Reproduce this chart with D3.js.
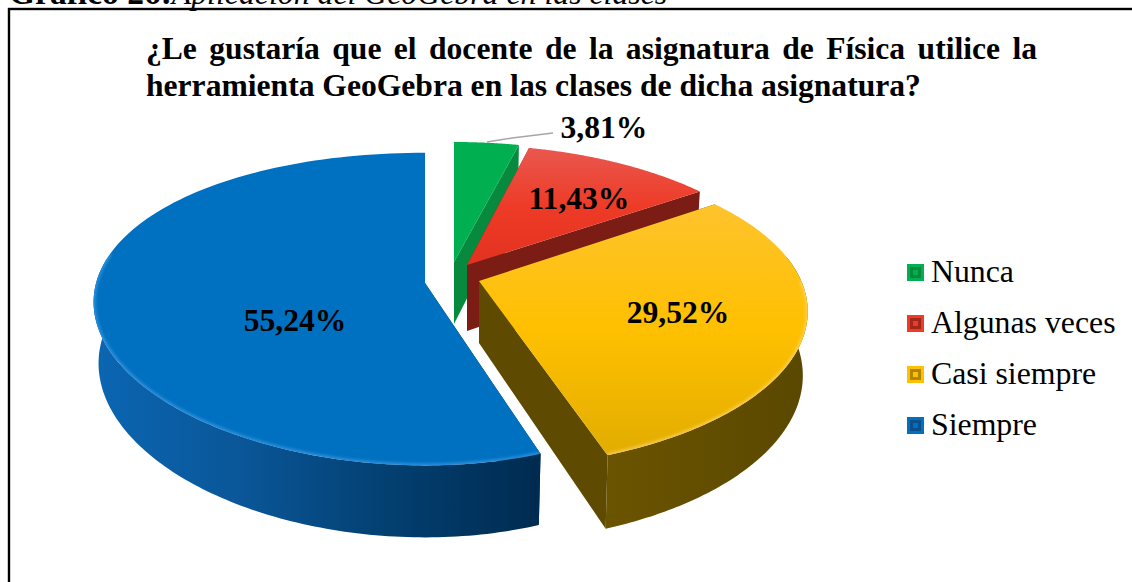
<!DOCTYPE html>
<html><head><meta charset="utf-8">
<style>html,body{margin:0;background:#fff;overflow:hidden}svg{display:block}text{font-family:"Liberation Serif",serif;fill:#000}</style>
<script src="https://cdn.jsdelivr.net/npm/d3@7"></script></head><body>
<svg id="c" width="1132" height="582"></svg>
<script>
const categories=["Nunca","Algunas veces","Casi siempre","Siempre"];
const values=[3.81,11.43,29.52,55.24];
const valueLabels=["3,81%","11,43%","29,52%","55,24%"];
const titleLines=["¿Le gustaría que el docente de la asignatura de Física utilice la","herramienta GeoGebra en las clases de dicha asignatura?"];
const topColors=[["#00b050","#00b050","#00b050"],["#e9584f","#ee3b27","#e2321f"],["#fec32d","#ffc000","#e2ad00"],["#0070c0","#0070c0","#0070c0"]];
const cutColors=["#078a3e","#7b1d14","#5e4a00","#003258"];
const wallStops=[["#078a3e","#078a3e"],["#7b1d14","#7b1d14"],["#6b5400","#5a4800"],["#0b66b2","#0a5698","#033f70","#002b50"]];
const bevelColors=[null,null,"#ffdc7a","#4aa6ec"];
const apexX=[454,467,479,425], apexY=[262,265,281,283];
const radXStart=[318,304,316,301], radXEnd=[318,312,335,352];
const radYStart=[140,140,146,152], radYEnd=[140,140,155,152];
const depth=[62,66,62,60];
const persp=1/6, taper=0.985;

const svg=d3.select("#c");
const defs=svg.append("defs");
const arcs=d3.pie().sort(null).value(d=>d)(values);
defs.append("filter").attr("id","soft").attr("x","-10%").attr("y","-10%").attr("width","120%").attr("height","120%")
  .append("feGaussianBlur").attr("stdDeviation",1.6);

function pt(i,a,down){
  const d=arcs[i],t=(a-d.startAngle)/(d.endAngle-d.startAngle);
  const rx=radXStart[i]+(radXEnd[i]-radXStart[i])*t, ry=radYStart[i]+(radYEnd[i]-radYStart[i])*t;
  const X=Math.sin(a),Y=-Math.cos(a),s=1/(1-persp*Y);
  return [apexX[i]+rx*X*s*(down?taper:1), apexY[i]+ry*Y*s+(down?depth[i]*s:0)];
}
const apex=(i,down)=>[apexX[i],apexY[i]+(down?depth[i]:0)];
const line=d3.line();
const rim=(i,a0,a1,down)=>d3.range(0,121).map(k=>pt(i,a0+(a1-a0)*k/120,down));

values.forEach((_,i)=>{
  const g=defs.append("linearGradient").attr("id","top"+i).attr("x1",0).attr("y1",0).attr("x2",0).attr("y2",1);
  topColors[i].forEach((c,k)=>g.append("stop").attr("offset",k/2).attr("stop-color",c));
  const w=defs.append("linearGradient").attr("id","wall"+i).attr("x1",0).attr("y1",0).attr("x2",1).attr("y2",0);
  wallStops[i].forEach((c,k,all)=>w.append("stop").attr("offset",k/(all.length-1)).attr("stop-color",c));
});

// frame (runs past the right and bottom of the picture)
svg.append("rect").attr("x",9).attr("y",9).attr("width",1200).attr("height",640).attr("fill","none").attr("stroke","#000").attr("stroke-width",2.4);
const head=svg.append("text").attr("x",9).attr("y",4);
head.append("tspan").attr("font-weight","bold").attr("font-size",33.5).text("Gráfico 26:");
head.append("tspan").attr("font-style","italic").attr("font-size",31.8).text("Aplicación del GeoGebra en las clases");

// title
const t0=svg.append("text").attr("x",146).attr("y",59).attr("font-size",31.6).attr("font-weight","bold").text(titleLines[0]);
svg.append("text").attr("x",146).attr("y",96).attr("font-size",31.6).attr("font-weight","bold").text(titleLines[1]);
const gaps=titleLines[0].split(" ").length-1;
t0.attr("word-spacing",(891-t0.node().getComputedTextLength())/gaps);

// slices back to front
arcs.forEach((d,i)=>{
  const g=svg.append("g");
  const a0=d.startAngle,a1=d.endAngle;
  const cut=a=>[apex(i,false),pt(i,a,false),pt(i,a,true),apex(i,true)];
  g.append("path").attr("d",line(cut(a1))+"Z").attr("fill",cutColors[i]);
  g.append("path").attr("d",line(cut(a0))+"Z").attr("fill",cutColors[i]);
  const fa0=Math.max(a0,Math.PI/2-0.17), fa1=Math.min(a1,3*Math.PI/2+0.17);
  if(fa1>fa0){
    const up=rim(i,fa0,fa1,false), dn=rim(i,fa0,fa1,true).reverse();
    g.append("path").attr("d",line(up.concat(dn))+"Z").attr("fill",`url(#wall${i})`);
  }
  const top=[apex(i,false)].concat(rim(i,a0,a1,false));
  g.append("path").attr("d",line(top)+"Z").attr("fill",`url(#top${i})`);
  if(bevelColors[i]&&fa1>fa0){
    const cp=defs.append("clipPath").attr("id","clip"+i);
    cp.append("path").attr("d",line(top)+"Z");
    g.append("g").attr("clip-path",`url(#clip${i})`).append("path")
      .attr("d",line(rim(i,Math.max(a0,Math.PI/2),Math.min(a1,3*Math.PI/2+0.2),false)))
      .attr("fill","none").attr("stroke",bevelColors[i]).attr("stroke-width",4).attr("stroke-opacity",.6).attr("filter","url(#soft)");
  }
});

// leader
svg.append("path").attr("d",line([[487,142],[512,138],[553,133]])).attr("fill","none").attr("stroke","#a6a6a6").attr("stroke-width",1.5);

// data labels
const labelX=[604,579,678,295], labelY=[138,209,323,331];
values.forEach((_,i)=>svg.append("text").attr("x",labelX[i]).attr("y",labelY[i]).attr("text-anchor","middle").attr("font-size",31.6).attr("font-weight","bold").text(valueLabels[i]));

// legend
const legY=d3.scalePoint().domain(categories).range([272.5,425.5]);
const markerDark=["#078a3e","#a3261c","#b08500","#0a4f8c"];
categories.forEach((c,i)=>{
  const y=legY(c);
  svg.append("rect").attr("x",907).attr("y",y-8.5).attr("width",17).attr("height",17).attr("fill",topColors[i][1]);
  svg.append("rect").attr("x",910).attr("y",y-5.5).attr("width",11).attr("height",11).attr("fill",markerDark[i]);
  svg.append("rect").attr("x",913).attr("y",y-2.5).attr("width",5).attr("height",5).attr("fill",topColors[i][1]);
  svg.append("text").attr("x",931).attr("y",y+9.5).attr("font-size",31.8).text(c);
});
</script></body></html>
